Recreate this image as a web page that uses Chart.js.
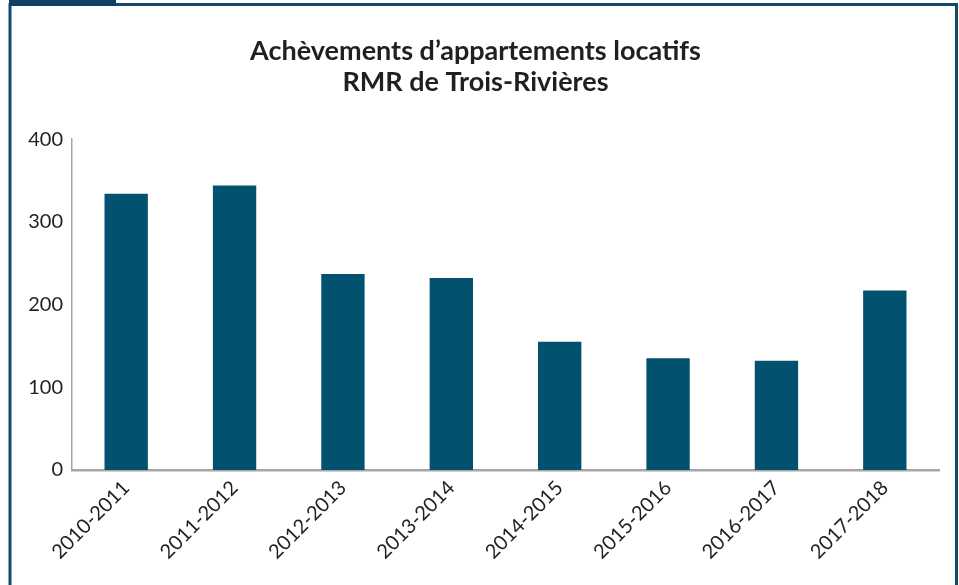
<!DOCTYPE html>
<html><head><meta charset="utf-8">
<script src="https://cdn.jsdelivr.net/npm/chart.js@4/dist/chart.umd.min.js"></script>
<style>html,body{margin:0;padding:0;background:#fff}#wrap{width:959px;height:585px;position:relative}</style>
</head><body><div id="wrap"><canvas id="c" width="959" height="585"></canvas></div>
<script>
const categories = ['2010-2011','2011-2012','2012-2013','2013-2014','2014-2015','2015-2016','2016-2017','2017-2018'];
const completions = [334, 344, 237, 232, 155, 135, 132, 217];
const yTicks = [0, 100, 200, 300, 400];
const titleLines = ['Achèvements d’appartements locatifs', 'RMR de Trois-Rivières'];

const frame = {
  id: 'frame',
  beforeDraw(chart) {
    const ctx = chart.ctx;
    ctx.save();
    ctx.fillStyle = '#fff';
    ctx.fillRect(0, 0, chart.width, chart.height);
    ctx.strokeStyle = '#124a6b';
    ctx.lineWidth = 3;
    ctx.beginPath();
    ctx.moveTo(10, 585); ctx.lineTo(10, 4.5); ctx.lineTo(956.5, 4.5); ctx.lineTo(956.5, 585);
    ctx.stroke();
    ctx.fillStyle = '#0f3f62';
    ctx.fillRect(9, 0, 107, 6);
    ctx.restore();
  }
};

new Chart(document.getElementById('c'), {
  type: 'bar',
  data: {
    labels: categories,
    datasets: [{
      data: completions,
      backgroundColor: '#02526f',
      borderWidth: 0,
      barPercentage: 0.4,
      categoryPercentage: 1.0
    }]
  },
  options: {
    responsive: false,
    animation: false,
    layout: { padding: { left: 12, right: 20, top: 36, bottom: 0 } },
    plugins: {
      legend: { display: false },
      tooltip: { enabled: false },
      title: {
        display: true,
        text: titleLines,
        color: '#231f20',
        font: { family: 'Lato', size: 27, weight: 'bold', lineHeight: 1.15 },
        padding: { top: 0, bottom: 41 }
      }
    },
    scales: {
      x: {
        grid: { display: false, drawTicks: false },
        border: { color: '#a6a6a6', width: 2.5 },
        ticks: {
          color: '#231f20',
          font: { family: 'Lato', size: 20 },
          minRotation: 45, maxRotation: 45,
          padding: 6
        },
        afterFit(s) { s.height = 115; }
      },
      y: {
        min: 0, max: 400,
        afterBuildTicks(s) { s.ticks = yTicks.map(v => ({ value: v })); },
        grid: { display: false, drawTicks: false },
        border: { color: '#a6a6a6', width: 1.5 },
        ticks: {
          color: '#231f20',
          font: { family: 'Lato', size: 20 },
          padding: 9
        },
        afterFit(s) { s.width = 60; }
      }
    }
  },
  plugins: [frame]
});
</script>
</body></html>
